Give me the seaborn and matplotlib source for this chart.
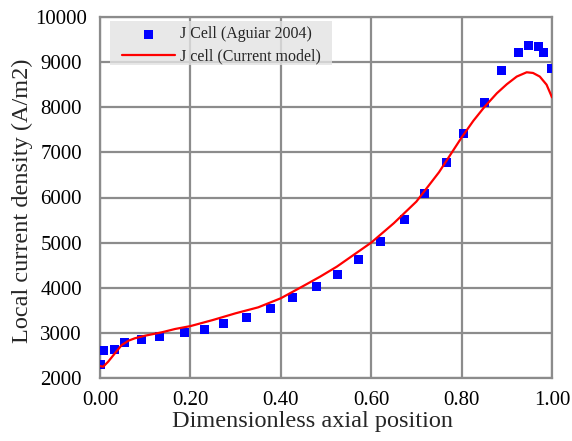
import matplotlib
matplotlib.use("Agg")
import matplotlib.pyplot as plt
from matplotlib.patches import Rectangle
import seaborn as sns
import pandas as pd

# Experimental data (Aguiar 2004)
x_exp = [0.0, 0.008, 0.0325, 0.055, 0.092, 0.132, 0.188, 0.232, 0.274, 0.325,
         0.378, 0.426, 0.479, 0.525, 0.571, 0.621, 0.673, 0.717, 0.767, 0.804,
         0.850, 0.889, 0.926, 0.948, 0.970, 0.982, 1.0]
j_exp = [2310, 2605, 2628, 2776, 2850, 2917, 3005, 3071, 3204, 3337,
         3537, 3774, 4024, 4284, 4623, 5016, 5510, 6080, 6774, 7410,
         8104, 8814, 9213, 9368, 9346, 9213, 8858]

# Current model
x_mod = [0.0, 0.007, 0.018, 0.033, 0.048, 0.063, 0.077, 0.1, 0.136, 0.166,
         0.2, 0.25, 0.3, 0.35, 0.4, 0.45, 0.487, 0.524, 0.6, 0.65,
         0.7, 0.75, 0.8, 0.826, 0.85, 0.878, 0.9, 0.922, 0.944, 0.958,
         0.973, 0.988, 1.0]
j_mod = [2266, 2250, 2361, 2547, 2730, 2827, 2880, 2938, 3011, 3086,
         3150, 3286, 3434, 3566, 3767, 4040, 4246, 4468, 5000, 5430,
         5910, 6560, 7330, 7700, 8000, 8310, 8510, 8680, 8775, 8760,
         8680, 8500, 8220]

x_ticks = [0.0, 0.2, 0.4, 0.6, 0.8, 1.0]
x_tick_labels = ["0.00", "0.20", "0.40", "0.60", "0.80", "1.00"]
y_ticks = [2000, 3000, 4000, 5000, 6000, 7000, 8000, 9000, 10000]

df_exp = pd.DataFrame({"x": x_exp, "j": j_exp})
df_mod = pd.DataFrame({"x": x_mod, "j": j_mod})

sns.set_theme(style="white")
plt.rcParams["font.family"] = ["Liberation Serif", "DejaVu Serif"]

fig = plt.figure(figsize=(5.72, 4.41), dpi=100)
ax = fig.add_axes([100 / 572, 1 - 378 / 441, 452 / 572, 361 / 441])

sns.scatterplot(data=df_exp, x="x", y="j", marker="s", s=42, color="#0000ff",
                edgecolor="none", linewidth=0, label="J Cell (Aguiar 2004)",
                ax=ax, zorder=4)
sns.lineplot(data=df_mod, x="x", y="j", color="#ff0000", linewidth=1.6,
             label="J cell (Current model)", ax=ax, zorder=5, sort=False)

ax.set_xlim(0, 1.0)
ax.set_ylim(2000, 10000)
ax.set_xticks(x_ticks)
ax.set_xticklabels(x_tick_labels)
ax.set_yticks(y_ticks)
ax.tick_params(axis="x", labelsize=15, length=0, pad=9.5, colors="black")
ax.tick_params(axis="y", labelsize=15, length=0, pad=28, colors="black")
for lab in ax.get_yticklabels():
    lab.set_horizontalalignment("center")
ax.grid(True, color="#8c8c8c", linewidth=1.6)
ax.set_axisbelow(True)
for s in ax.spines.values():
    s.set_color("#8c8c8c")
    s.set_linewidth(1.6)

ax.set_xlabel("Dimensionless axial position", fontsize=17.5)
ax.set_ylabel("Local current density (A/m2)", fontsize=17.5)
ax.xaxis.set_label_coords(0.471, -0.0914)
ax.yaxis.set_label_coords(-0.148, 0.49)

# legend background box
ax.add_patch(Rectangle((0.0221, 0.867), 0.491, 0.1219, transform=ax.transAxes,
                       facecolor="#e3e3e3", edgecolor="none", alpha=0.8,
                       zorder=6))
leg = ax.legend(loc="upper left", bbox_to_anchor=(0.0487, 0.974), fontsize=11.5,
                frameon=False, borderpad=0.0, handlelength=3.3,
                handletextpad=0.35, labelspacing=0.37, borderaxespad=0.0)
leg.set_zorder(7)

fig.savefig("out.png", dpi=100)
